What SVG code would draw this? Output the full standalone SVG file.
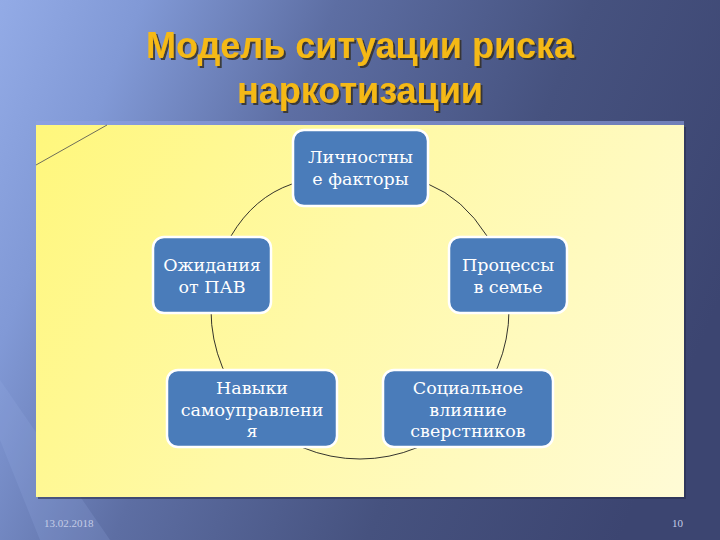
<svg xmlns="http://www.w3.org/2000/svg" width="720" height="540" viewBox="0 0 720 540">
  <defs>
    <linearGradient id="bg" gradientUnits="userSpaceOnUse" x1="0" y1="0" x2="720" y2="300">
      <stop offset="0" stop-color="#93abe6"/>
      <stop offset="0.17" stop-color="#8199d6"/>
      <stop offset="0.4" stop-color="#5d6ea3"/>
      <stop offset="0.7" stop-color="#46527f"/>
      <stop offset="1" stop-color="#3c4571"/>
    </linearGradient>
    <linearGradient id="panel" gradientUnits="userSpaceOnUse" x1="36" y1="125" x2="684" y2="497">
      <stop offset="0" stop-color="#fff77c"/>
      <stop offset="0.45" stop-color="#fff9a8"/>
      <stop offset="1" stop-color="#fffbd6"/>
    </linearGradient>
    <filter id="ts" x="-5%" y="-20%" width="110%" height="140%">
      <feDropShadow dx="2" dy="2" stdDeviation="0.6" flood-color="#2e2a20" flood-opacity="0.8"/>
    </filter>
  </defs>
  <style>
    .title { font-family: "Liberation Sans", Arial, sans-serif; font-weight: bold; font-size: 36px; fill: #f5b912; text-anchor: middle; }
    .node rect { fill: #4a7cba; stroke: #ffffff; stroke-width: 2.5; }
    .node text { font-family: "DejaVu Serif", "Liberation Serif", serif; font-size: 17.5px; fill: #ffffff; text-anchor: middle; }
    .conn path { fill: none; stroke: #1e1e1e; stroke-width: 0.9; }
    .foot { font-family: "Liberation Serif", "Times New Roman", serif; font-size: 11px; fill: #c4cce6; }
  </style>

  <!-- background -->
  <rect x="0" y="0" width="720" height="540" fill="url(#bg)"/>
  <polygon points="0,440 40,540 110,540 0,380" fill="#9ab0ea" opacity="0.18"/>

  <!-- title -->
  <g id="title" filter="url(#ts)">
    <text class="title" x="360" y="58">Модель ситуации риска</text>
    <text class="title" x="360" y="103">наркотизации</text>
  </g>

  <!-- panel -->
  <rect x="38" y="127" width="648" height="372" fill="#262c4a" opacity="0.55"/>
  <rect x="36" y="121" width="648" height="5" fill="#8fa2e4" opacity="0.6"/>
  <rect x="36" y="125" width="648" height="372" fill="url(#panel)"/>
  <line x1="36" y1="165" x2="107" y2="125" stroke="#6e6e5a" stroke-width="1"/>

  <!-- connectors -->
  <g id="connectors" class="conn">
    <path d="M292,184 Q254,197 231,236"/>
    <path d="M428,184 Q463,198 487,236"/>
    <path d="M211,310 A149,149 0 0 0 509,310"/>
  </g>

  <!-- nodes -->
  <g id="node-lichnostnye" class="node">
    <rect x="293" y="130" width="135" height="76" rx="11"/>
    <text x="360.5" y="163">Личностны</text>
    <text x="360.5" y="184.5">е факторы</text>
  </g>
  <g id="node-ozhidaniya" class="node">
    <rect x="153" y="237" width="118" height="76" rx="11"/>
    <text x="212" y="271">Ожидания</text>
    <text x="212" y="292.5">от ПАВ</text>
  </g>
  <g id="node-protsessy" class="node">
    <rect x="449" y="237" width="118" height="76" rx="11"/>
    <text x="508" y="271">Процессы</text>
    <text x="508" y="292.5">в семье</text>
  </g>
  <g id="node-navyki" class="node">
    <rect x="167" y="370" width="170" height="77" rx="11"/>
    <text x="252" y="394">Навыки</text>
    <text x="252" y="415.5">самоуправлени</text>
    <text x="252" y="437">я</text>
  </g>
  <g id="node-sotsialnoe" class="node">
    <rect x="383" y="370" width="170" height="77" rx="11"/>
    <text x="468" y="394">Социальное</text>
    <text x="468" y="415.5">влияние</text>
    <text x="468" y="437">сверстников</text>
  </g>

  <!-- footer -->
  <text class="foot" x="44" y="527">13.02.2018</text>
  <text class="foot" x="683" y="527" text-anchor="end">10</text>
</svg>
